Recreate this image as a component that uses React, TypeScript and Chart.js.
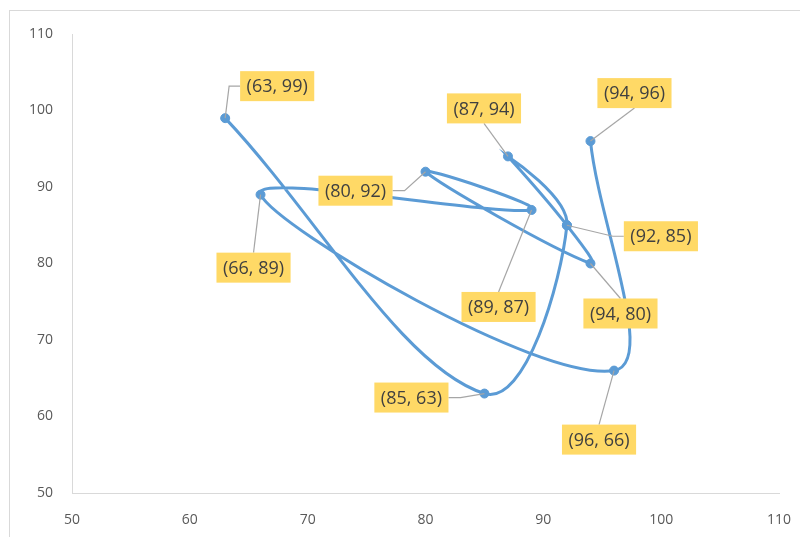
import React, { useEffect, useRef } from "react";
import { Chart, registerables } from "chart.js";

Chart.register(...registerables);

// Series, in drawing order (the path passes (92, 85) twice)
const xValues = [63, 85, 92, 87, 92, 94, 80, 89, 66, 96, 94];
const yValues = [99, 63, 85, 94, 85, 80, 92, 87, 89, 66, 96];

// Axis range shared by both axes
const axisMin = 50;
const axisMax = 110;
const axisStep = 10;

// Where each callout box sits relative to its point (px) and which side the leader meets
type Placement = { dx: number; dy: number; side: "top" | "bottom" | "left" | "right" } | null;
const labelPlacement: Placement[] = [
  { dx: 52, dy: -32, side: "left" },
  { dx: -73, dy: 4, side: "right" },
  { dx: 94, dy: 11, side: "left" },
  { dx: -24, dy: -48, side: "bottom" },
  null,
  { dx: 30, dy: 50, side: "top" },
  { dx: -70, dy: 19, side: "right" },
  { dx: -33, dy: 97, side: "top" },
  { dx: -7, dy: 73, side: "top" },
  { dx: -15, dy: 69, side: "top" },
  { dx: 44, dy: -48, side: "bottom" },
];

const LINE_BLUE = "#5B9BD5";
const AXIS_GREY = "#D9D9D9";
const TICK_GREY = "#595959";
const LABEL_FILL = "#FFD966";
const LABEL_TEXT = "#404040";
const LEADER_GREY = "#A6A6A6";
const FONT = '"Open Sans", "Noto Sans", sans-serif';

const frame = {
  id: "frame",
  beforeDraw(chart: any) {
    const ctx = chart.ctx;
    ctx.save();
    ctx.fillStyle = "#FFFFFF";
    ctx.fillRect(0, 0, chart.width, chart.height);
    ctx.strokeStyle = AXIS_GREY;
    ctx.lineWidth = 1;
    ctx.strokeRect(9.5, 10.5, chart.width + 10, chart.height + 10);
    ctx.restore();
  },
};

const callouts = {
  id: "callouts",
  afterDatasetsDraw(chart: any) {
    const ctx = chart.ctx;
    const xs = chart.scales.x;
    const ys = chart.scales.y;
    ctx.save();
    ctx.font = `18px ${FONT}`;
    const boxH = 30;
    xValues.forEach((xv, i) => {
      const p = labelPlacement[i];
      if (!p) return;
      const yv = yValues[i];
      const px = xs.getPixelForValue(xv);
      const py = ys.getPixelForValue(yv);
      const text = `(${xv}, ${yv})`;
      const w = ctx.measureText(text).width + 13;
      const cx = px + p.dx;
      const cy = py + p.dy;
      const left = cx - w / 2;
      const right = cx + w / 2;
      const top = cy - boxH / 2;
      const bottom = cy + boxH / 2;

      ctx.strokeStyle = LEADER_GREY;
      ctx.lineWidth = 1.2;
      ctx.beginPath();
      if (p.side === "left") {
        ctx.moveTo(px, py);
        ctx.lineTo(left - 11, cy);
        ctx.lineTo(left, cy);
      } else if (p.side === "right") {
        ctx.moveTo(px, py);
        ctx.lineTo(right + 12, cy);
        ctx.lineTo(right, cy);
      } else if (p.side === "top") {
        ctx.moveTo(px, py);
        ctx.lineTo(cx, top);
      } else {
        ctx.moveTo(px, py);
        ctx.lineTo(cx, bottom);
      }
      ctx.stroke();

      ctx.fillStyle = LABEL_FILL;
      ctx.fillRect(left, top, w, boxH);
      ctx.fillStyle = LABEL_TEXT;
      ctx.textAlign = "center";
      ctx.textBaseline = "middle";
      ctx.fillText(text, cx, cy + 1);
    });
    ctx.restore();
  },
};

export default function App() {
  const canvasRef = useRef<HTMLCanvasElement | null>(null);

  useEffect(() => {
    if (!canvasRef.current) return;
    const points = xValues.map((x, i) => ({ x, y: yValues[i] }));
    const chart = new Chart(canvasRef.current, {
      type: "scatter",
      data: {
        datasets: [
          {
            data: points,
            showLine: true,
            tension: 0.36,
            borderColor: LINE_BLUE,
            borderWidth: 3,
            backgroundColor: LINE_BLUE,
            pointBackgroundColor: LINE_BLUE,
            pointBorderColor: LINE_BLUE,
            pointRadius: 4.5,
            pointBorderWidth: 1,
          },
        ],
      },
      options: {
        responsive: false,
        animation: false,
        events: [],
        layout: { padding: { top: 34, right: 21, left: 0, bottom: 0 } },
        plugins: {
          legend: { display: false },
          tooltip: { enabled: false },
        },
        scales: {
          x: {
            type: "linear",
            min: axisMin,
            max: axisMax,
            afterFit(scale: any) {
              scale.height = 44;
              scale.paddingRight = 0;
              scale.paddingLeft = 0;
            },
            grid: { color: "transparent", drawTicks: false },
            border: { display: true, color: AXIS_GREY, width: 1 },
            ticks: {
              stepSize: axisStep,
              padding: 19,
              color: TICK_GREY,
              font: { family: FONT, size: 14 },
            },
          },
          y: {
            type: "linear",
            min: axisMin,
            max: axisMax,
            afterFit(scale: any) {
              scale.width = 72;
            },
            grid: { color: "transparent", drawTicks: false },
            border: { display: true, color: AXIS_GREY, width: 1 },
            ticks: {
              stepSize: axisStep,
              padding: 19,
              color: TICK_GREY,
              font: { family: FONT, size: 14 },
            },
          },
        },
      },
      plugins: [frame, callouts],
    });
    return () => chart.destroy();
  }, []);

  return (
    <div style={{ position: "absolute", left: 0, top: 0, width: 800, height: 537 }}>
      <canvas ref={canvasRef} width={800} height={537} style={{ display: "block" }} />
    </div>
  );
}
